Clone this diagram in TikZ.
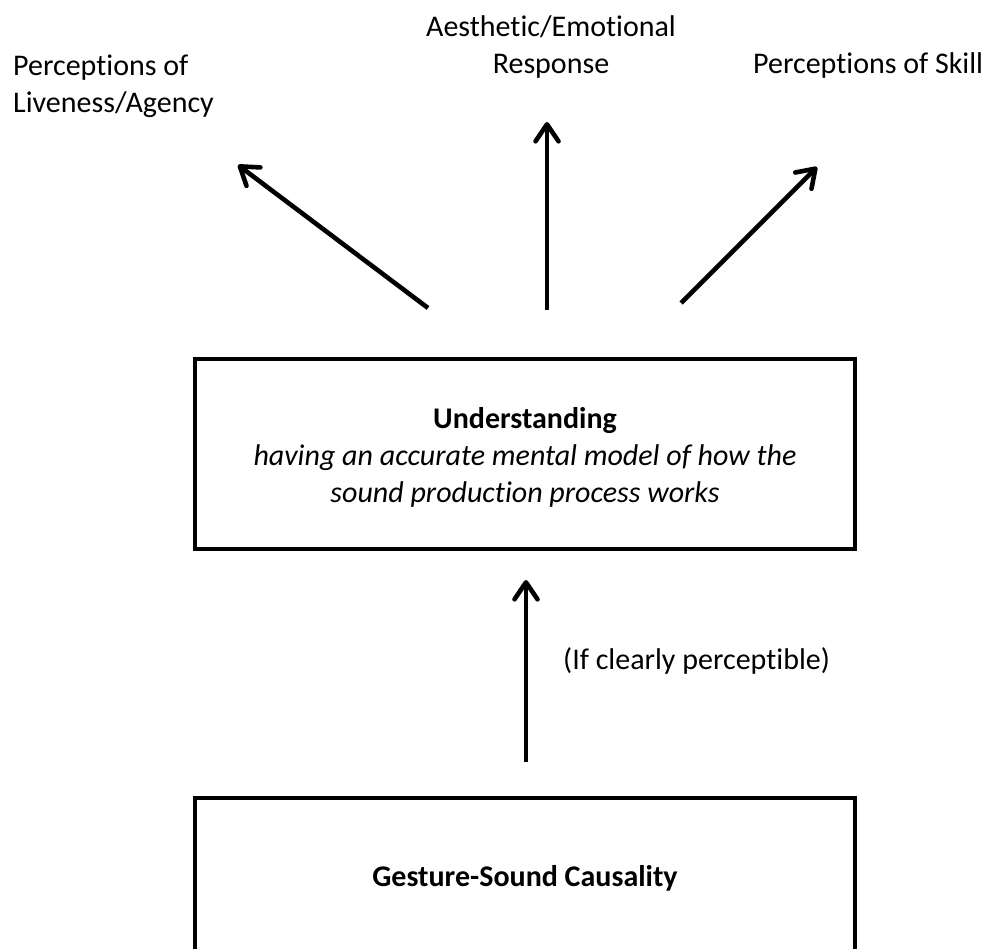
\documentclass[tikz,border=0pt]{standalone}
\usepackage{fontspec}
\setmainfont{Carlito}[Ligatures={NoCommon}]
\usetikzlibrary{arrows.meta}
\tikzset{
  lbl/.style={inner sep=0pt, font=\fontsize{30}{37}\selectfont},
  boxnode/.style={draw=black, line width=4.5pt, inner sep=0pt, minimum width=660pt,
    align=center, font=\fontsize{30}{37}\selectfont},
  arr/.style={line width=4.6pt, -{Straight Barb[length=17pt,width=23pt,round]}},
}
\begin{document}
\begin{tikzpicture}[x=1pt,y=-1pt]
\useasboundingbox (0,0) rectangle (1001,949);
\clip (0,0) rectangle (1001,949);
% labels
\node[lbl, anchor=base west, text width=260pt, align=flush left] (live) at (13,76)
  {Perceptions of\\Liveness/Agency};
\node[lbl, anchor=base, text width=300pt, align=flush center] (aes) at (551,37)
  {Aesthetic/Emotional\\Response};
\node[lbl, anchor=base west] (skill) at (753,74) {Perceptions of Skill};
\node[lbl, anchor=base west] (ifc) at (563,669) {(If clearly perceptible)};
% boxes
\node[boxnode, minimum height=190pt] (und) at (525,454)
  {\rule{0pt}{28pt}\textbf{Understanding}\\\textit{having an accurate mental model of how the}\\\textit{sound production process works}};
\node[boxnode, minimum height=160pt] (gsc) at (525,878) {\textbf{Gesture-Sound Causality}};
% arrow end points
\coordinate (t1) at (428,308);
\coordinate (h1) at (238,165);
\coordinate (t2) at (547,310);
\coordinate (h2) at (547,122);
\coordinate (t3) at (681,303);
\coordinate (h3) at (817,167);
\coordinate (t4) at (526,762);
\coordinate (h4) at (526,580);
\draw[arr] (t1) -- (h1);
\draw[arr] (t2) -- (h2);
\draw[arr] (t3) -- (h3);
\draw[arr] (t4) -- (h4);
\end{tikzpicture}
\end{document}
